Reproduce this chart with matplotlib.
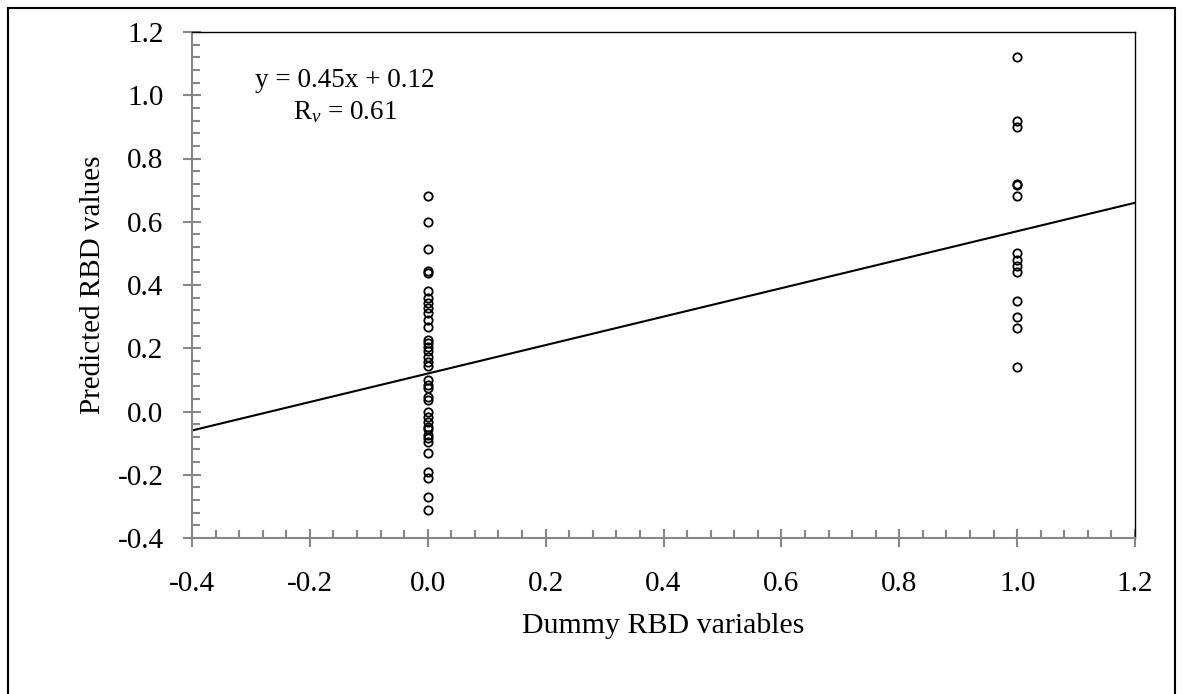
import matplotlib
matplotlib.use("Agg")
import matplotlib.pyplot as plt
from matplotlib.ticker import MultipleLocator, AutoMinorLocator
from matplotlib.patches import Rectangle

plt.rcParams['font.family'] = ['Liberation Serif', 'DejaVu Serif']
plt.rcParams['mathtext.fontset'] = 'custom'
plt.rcParams['mathtext.rm'] = 'Liberation Serif'
plt.rcParams['mathtext.it'] = 'Liberation Serif:italic'

# ── Data ────────────────────────────────────────────────────────────────────
# predicted values for the dummy = 0 group
pred_0 = [0.68, 0.60, 0.515, 0.445, 0.437, 0.38, 0.358, 0.342, 0.326, 0.31,
          0.29, 0.268, 0.226, 0.216, 0.205, 0.19, 0.173, 0.158, 0.145, 0.10,
          0.085, 0.073, 0.047, 0.036, 0.0, -0.016, -0.032, -0.048, -0.055,
          -0.075, -0.085, -0.095, -0.13, -0.19, -0.21, -0.27, -0.31]
# predicted values for the dummy = 1 group
pred_1 = [1.12, 0.92, 0.90, 0.72, 0.715, 0.68, 0.50, 0.48, 0.46, 0.44,
          0.35, 0.30, 0.265, 0.14]

slope = 0.45
intercept = 0.12
r_v = 0.61

x_range = [-0.4, 1.2]
y_range = [-0.4, 1.2]

dummy_x = [0.0] * len(pred_0) + [1.0] * len(pred_1)
pred_y = pred_0 + pred_1

# ── Plot ────────────────────────────────────────────────────────────────────
fig = plt.figure(figsize=(11.83, 6.94), dpi=100)
ax = fig.add_axes([192 / 1183, 1 - 538 / 694, (1135 - 192) / 1183, (538 - 32) / 694])

ax.plot(dummy_x, pred_y, linestyle='none', marker='o', markersize=6,
        markerfacecolor='none', markeredgecolor='black', markeredgewidth=1.3,
        zorder=3)

line_x = x_range
line_y = [slope * v + intercept for v in line_x]
ax.plot(line_x, line_y, color='black', linewidth=1.5, zorder=2)

ax.set_xlim(x_range)
ax.set_ylim(y_range)
ax.xaxis.set_major_locator(MultipleLocator(0.2))
ax.yaxis.set_major_locator(MultipleLocator(0.2))
ax.xaxis.set_minor_locator(AutoMinorLocator(5))
ax.yaxis.set_minor_locator(AutoMinorLocator(5))
ax.xaxis.set_major_formatter(lambda v, p: f"{v:.1f}")
ax.yaxis.set_major_formatter(lambda v, p: f"{v:.1f}")

gray = '#878787'
ax.tick_params(which='major', direction='inout', length=13, width=1.5,
               color=gray, labelsize=21)
ax.tick_params(axis='y', which='major', pad=14)
ax.tick_params(axis='x', which='major', pad=17)
ax.tick_params(which='minor', direction='in', length=6, width=1.5, color=gray)
for side in ['left', 'bottom']:
    ax.spines[side].set_color(gray)
    ax.spines[side].set_linewidth(1.5)
for side in ['top', 'right']:
    ax.spines[side].set_color('black')
    ax.spines[side].set_linewidth(1.0)

ax.set_xlabel('Dummy RBD variables', fontsize=21.5, labelpad=12)
ax.set_ylabel('Predicted RBD values', fontsize=21, labelpad=8)

ax.text(-0.14, 1.048, f'y = {slope:.2f}x + {intercept:.2f}', fontsize=19.5,
        ha='center', va='center')
ax.text(-0.14, 0.947, f'R$_{{v}}$ = {r_v:.2f}', fontsize=19.5,
        ha='center', va='center')

# outer frame round the whole chart
fig.patches.append(Rectangle((8 / 1183, -0.02), (1175 - 8) / 1183, 1.02 - 8 / 694,
                             transform=fig.transFigure, fill=False,
                             edgecolor='black', linewidth=1.5))

fig.savefig('out.png', dpi=100)
